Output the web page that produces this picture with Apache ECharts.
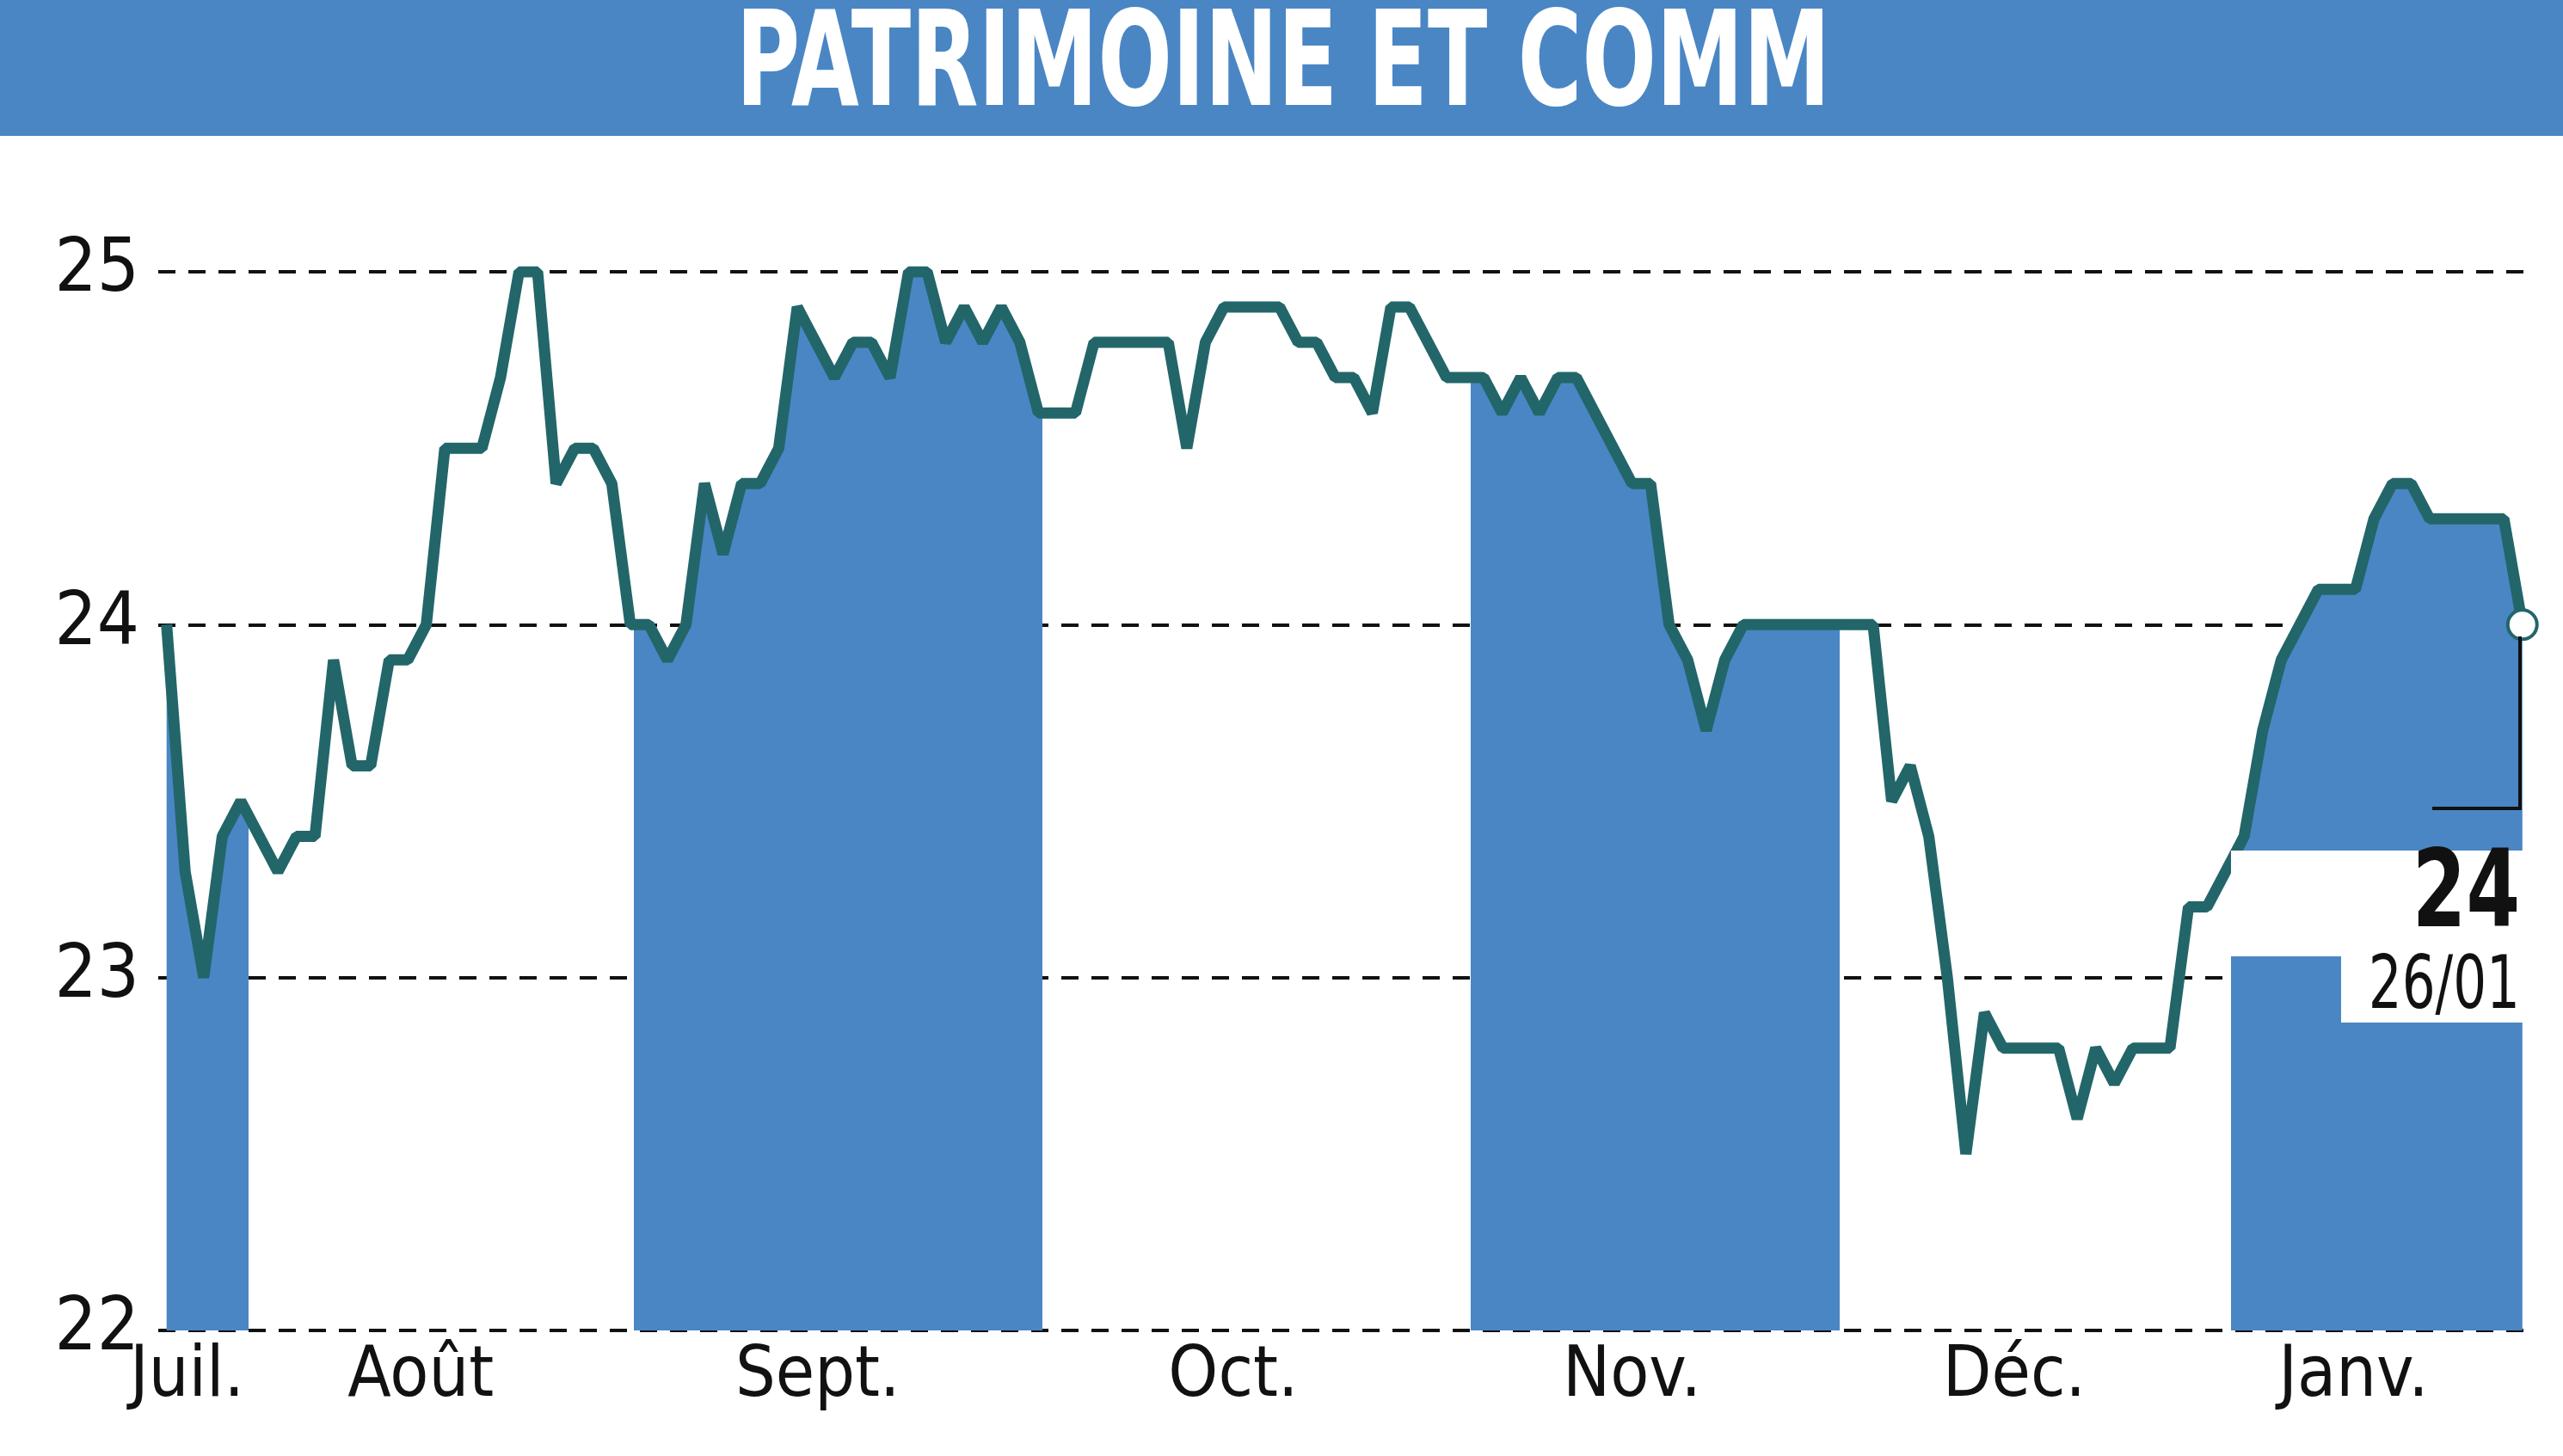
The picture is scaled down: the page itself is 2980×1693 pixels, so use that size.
<!DOCTYPE html>
<html><head><meta charset="UTF-8"><title>PATRIMOINE ET COMM</title>
<style>html,body{margin:0;padding:0;background:#fff}#chart{width:2980px;height:1693px}</style>
</head><body>
<div id="chart"></div>
<script src="https://cdn.jsdelivr.net/npm/echarts@6/dist/echarts.min.js"></script>
<script>
// trading day index and closing price
const dayIdx = [0,1,2,3,4,6,7,8,9,10,11,12,13,14,15,17,18,19,20,21,22,23,24,25,26,27,28,29,30,31,32,33,34,36,37,38,39,40,41,42,43,44,45,46,47,49,50,54,55,56,57,60,61,62,63,64,65,66,67,69,71,72,73,74,75,76,79,80,81,82,83,84,85,92,93,94,95,96,97,98,99,102,103,104,105,106,108,109,110,111,112,113,114,116,118,119,120,121,122,126,127];
const price = [24.0,23.3,23.0,23.4,23.5,23.3,23.4,23.4,23.9,23.6,23.6,23.9,23.9,24.0,24.5,24.5,24.7,25.0,25.0,24.4,24.5,24.5,24.4,24.0,24.0,23.9,24.0,24.4,24.2,24.4,24.4,24.5,24.9,24.7,24.8,24.8,24.7,25.0,25.0,24.8,24.9,24.8,24.9,24.8,24.6,24.6,24.8,24.8,24.5,24.8,24.9,24.9,24.8,24.8,24.7,24.7,24.6,24.9,24.9,24.7,24.7,24.6,24.7,24.6,24.7,24.7,24.4,24.4,24.0,23.9,23.7,23.9,24.0,24.0,23.5,23.6,23.4,23.0,22.5,22.9,22.8,22.8,22.6,22.8,22.7,22.8,22.8,23.2,23.2,23.3,23.4,23.7,23.9,24.1,24.1,24.3,24.4,24.4,24.3,24.3,24.0];
const monthNames = ['Juil.','Août','Sept.','Oct.','Nov.','Déc.','Janv.'];
const monthLabelPos = [1.1,13.7,35.1,57.5,79,99.6,117.9];
const shadedMonths = [[-0.45,4.4],[25.2,47.2],[70.3,90.2],[111.3,127.15]];
const lastValue = '24', lastDate = '26/01';

const font = "'DejaVu Sans Condensed',sans-serif";
const chart = echarts.init(document.getElementById('chart'));
const labelMap = {};
monthLabelPos.forEach((p,i)=>labelMap[p]=monthNames[i]);
const series = dayIdx.map((d,i)=>[d,price[i]]);
chart.setOption({
  animation:false,
  grid:{left:184,right:44,top:316,bottom:146},
  visualMap:{show:false,type:'piecewise',seriesIndex:0,dimension:0,
    pieces:shadedMonths.map(r=>({gte:r[0],lte:r[1],color:'#4a86c4'})),
    outOfRange:{color:'rgba(255,255,255,0)'}},
  xAxis:{type:'value',min:-0.45,max:127.15,
    axisLine:{show:false},axisTick:{show:false},splitLine:{show:false},
    axisLabel:{customValues:monthLabelPos,formatter:v=>labelMap[v]||'',
      fontFamily:font,fontSize:82,color:'#111',margin:14}},
  yAxis:{type:'value',min:22,max:25,interval:1,
    axisLine:{show:false},axisTick:{show:false},
    axisLabel:{fontFamily:font,fontSize:86,color:'#111',margin:22},
    splitLine:{lineStyle:{color:'#111',type:[20,15],width:4}}},
  series:[
    {type:'line',data:series,symbol:'none',z:2,
      lineStyle:{width:0},areaStyle:{opacity:1,origin:'start'}},
    {type:'line',data:series,symbol:'none',z:3,
      lineStyle:{color:'#22666a',width:13},itemStyle:{color:'#22666a'},
      markPoint:{symbol:'circle',symbolSize:34,
        itemStyle:{color:'#fff',borderColor:'#22666a',borderWidth:4},
        label:{show:false},
        data:[{coord:series[series.length-1]}]}}
  ],
  graphic:[
    {type:'rect',shape:{x:0,y:0,width:2980,height:158},style:{fill:'#4a86c4'},z:10},
    {type:'text',x:1492,y:82,scaleY:1.35,style:{text:'PATRIMOINE ET COMM',fill:'#fff',
      font:"bold 113px "+font,textAlign:'center',textVerticalAlign:'middle'},z:11},
    {type:'polyline',shape:{points:[[2828,940],[2930,940],[2930,740]]},
      style:{stroke:'#111',lineWidth:4,fill:null},z:10},
    {type:'rect',shape:{x:2594,y:989,width:342,height:123},style:{fill:'#fff'},z:10},
    {type:'rect',shape:{x:2722,y:1112,width:214,height:77},style:{fill:'#fff'},z:10},
    {type:'text',x:2930,y:1045,scaleY:1.25,style:{text:lastValue,fill:'#111',font:"bold 100px "+font,
      textAlign:'right',textVerticalAlign:'middle'},z:11},
    {type:'text',x:2930,y:1150,scaleY:1.25,style:{text:lastDate,fill:'#111',font:"68px "+font,
      textAlign:'right',textVerticalAlign:'middle'},z:11}
  ]
});
</script>
</body></html>
